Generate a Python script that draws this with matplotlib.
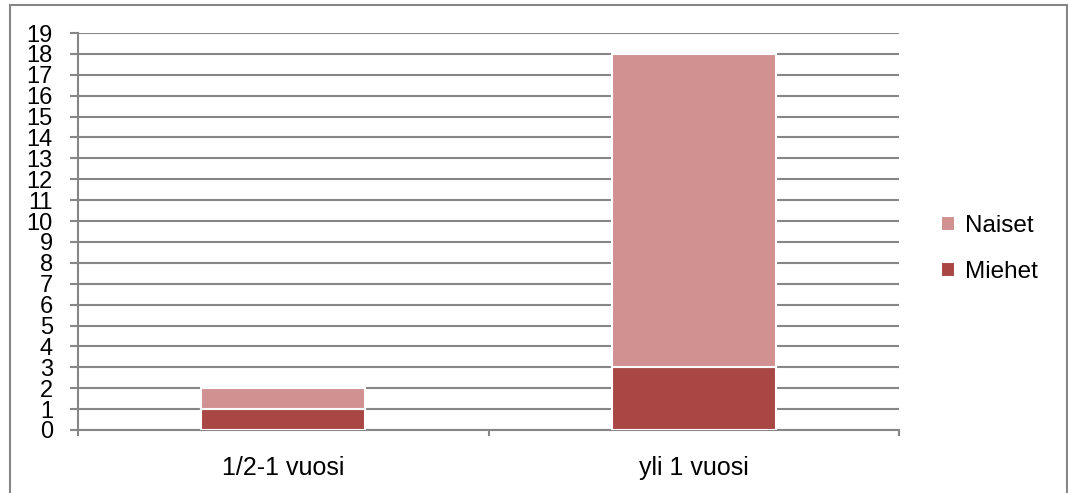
import numpy as np
import matplotlib.pyplot as plt
from matplotlib.patches import Rectangle

plt.rcParams['font.family'] = ['Liberation Sans', 'DejaVu Sans']

categories = ['1/2-1 vuosi', 'yli 1 vuosi']
miehet = [1, 3]
naiset = [1, 15]

c_miehet = '#A94745'
c_naiset = '#D19191'
grey = '#868686'

fig = plt.figure(figsize=(10.68, 4.93), dpi=100)
ax = fig.add_axes([78/1068, 1 - 430/493, (899 - 78)/1068, (430 - 33)/493])

# outer chart border
fig.patches.append(Rectangle((9.5/1068, -0.1), (1066.5 - 9.5)/1068, 1.1 - 4.5/493,
                             transform=fig.transFigure, fill=False,
                             edgecolor=grey, linewidth=1.5, clip_on=False))

x = np.arange(len(categories))
w = 0.40
b1 = ax.bar(x, miehet, width=w, color=c_miehet, edgecolor='white', linewidth=1.5,
            label='Miehet', zorder=3)
b2 = ax.bar(x, naiset, width=w, bottom=miehet, color=c_naiset, edgecolor='white',
            linewidth=1.5, label='Naiset', zorder=3)

ax.set_xlim(-0.5, len(categories) - 0.5)
ax.set_ylim(0, 19)
ax.set_yticks(range(0, 20))
ax.yaxis.grid(True, color=grey, linewidth=1.5, zorder=0)
ax.tick_params(axis='y', length=6, width=1.5, color=grey, pad=12, labelsize=17)

ax.set_xticks([-0.5, 0.5, 1.5])
ax.set_xticklabels([])
ax.tick_params(axis='x', which='major', length=4.5, width=1.5, color=grey)
ax.set_xticks(x, minor=True)
ax.set_xticklabels(categories, minor=True)
ax.tick_params(axis='x', which='minor', length=0, pad=19, labelsize=18)

for s in ['top', 'right']:
    ax.spines[s].set_visible(False)
for s in ['left', 'bottom']:
    ax.spines[s].set_color(grey)
    ax.spines[s].set_linewidth(1.5)

leg = fig.legend(handles=[b2, b1], labels=['Naiset', 'Miehet'],
                 loc='center left', bbox_to_anchor=(919/1068, 1 - 249/493),
                 frameon=False, fontsize=17.5, handlelength=0.6, handleheight=0.6,
                 handletextpad=0.4, labelspacing=1.0)

fig.savefig('out.png', dpi=100)
